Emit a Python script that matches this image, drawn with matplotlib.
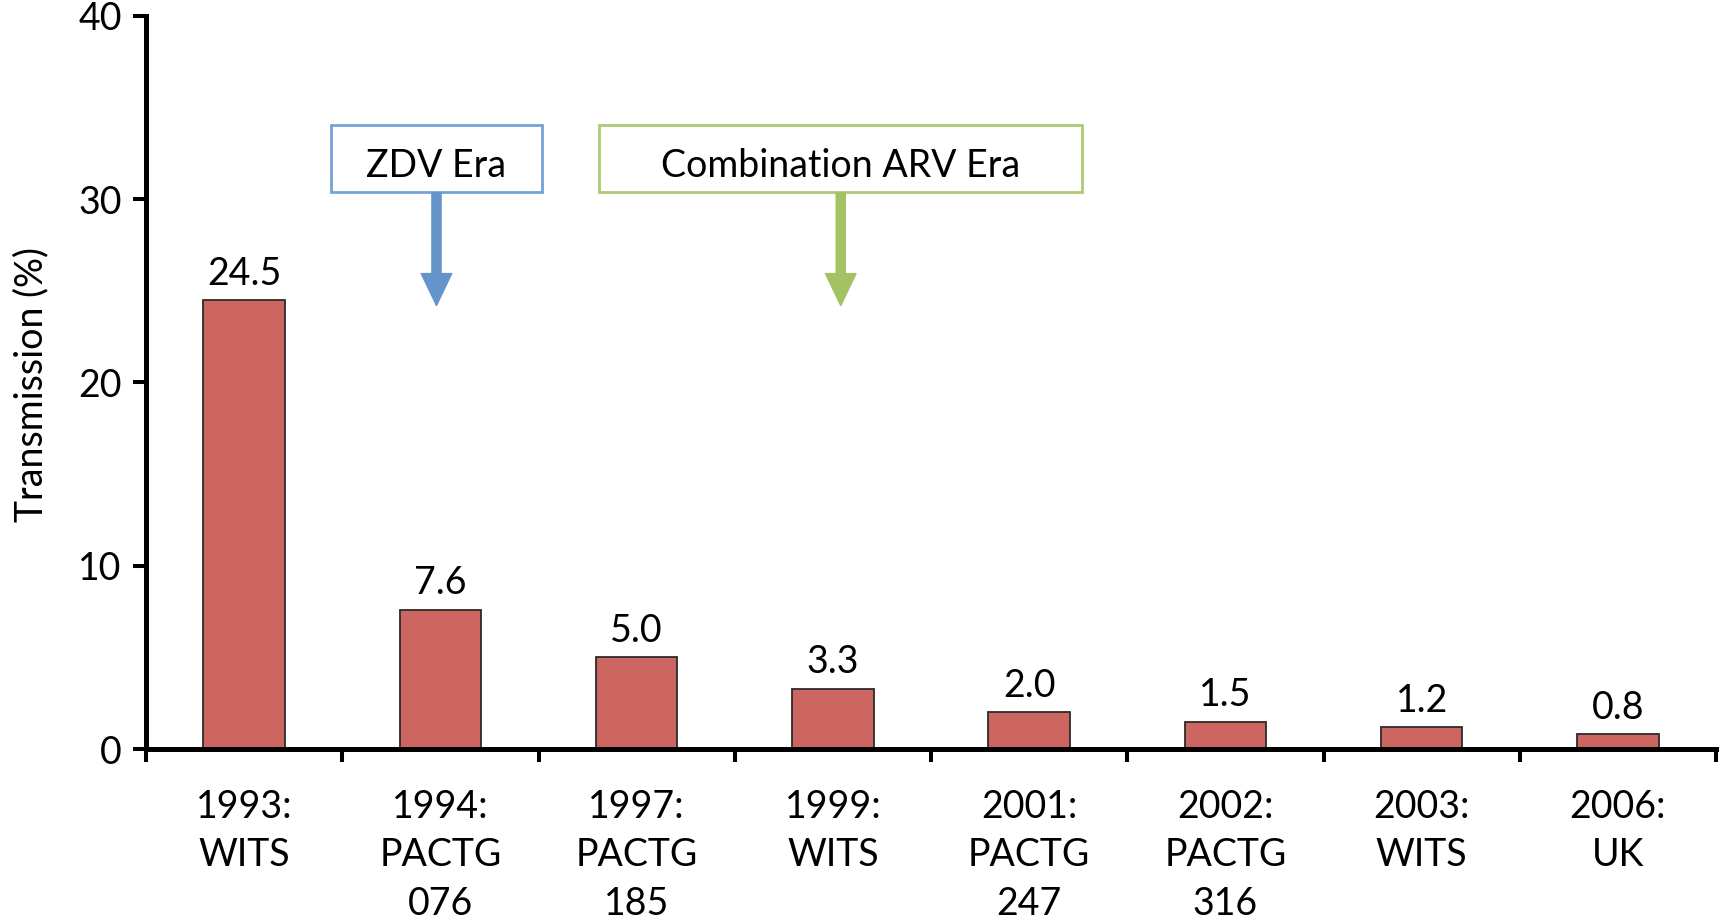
import matplotlib.pyplot as plt
from matplotlib.patches import Rectangle, FancyArrowPatch
import numpy as np

plt.rcParams['font.family'] = ['Lato', 'DejaVu Sans']

# Data
studies = ['1993:\nWITS', '1994:\nPACTG\n076', '1997:\nPACTG\n185', '1999:\nWITS',
           '2001:\nPACTG\n247', '2002:\nPACTG\n316', '2003:\nWITS', '2006:\nUK']
transmission = [24.5, 7.6, 5.0, 3.3, 2.0, 1.5, 1.2, 0.8]
y_ticks = [0, 10, 20, 30, 40]

bar_color = '#CD6660'
blue = '#6494C9'
blue_edge = '#74A2D4'
green = '#A3C264'
green_edge = '#AECB74'
fs = 27

fig = plt.figure(figsize=(17.24, 9.23), dpi=100)
ax = fig.add_axes([0.0847, 0.1885, 0.9107, 0.7942])

x = np.arange(len(studies))
bars = ax.bar(x, transmission, width=0.415, color=bar_color,
              edgecolor='#2b2b2b', linewidth=1.3, zorder=2)

for xi, v in zip(x, transmission):
    ax.annotate(f'{v:.1f}', xy=(xi, v), xytext=(0, 11), textcoords='offset points',
                ha='center', va='baseline', fontsize=fs)

ax.set_xlim(-0.5, len(studies) - 0.5)
ax.set_ylim(0, 40)
ax.set_yticks(y_ticks)
ax.set_yticklabels([str(t) for t in y_ticks], fontsize=fs)

# major ticks at category boundaries, labels on minor ticks at centres
ax.set_xticks(np.arange(-0.5, len(studies), 1.0))
ax.set_xticklabels([])
ax.set_xticks(x, minor=True)
ax.set_xticklabels(studies, minor=True, fontsize=fs, linespacing=1.42)
ax.tick_params(axis='x', which='minor', length=0, pad=29)
ax.tick_params(axis='both', which='major', direction='out', length=9.5,
               width=2.9, color='black')
ax.tick_params(axis='y', pad=8)

for s in ['top', 'right']:
    ax.spines[s].set_visible(False)
for s in ['left', 'bottom']:
    ax.spines[s].set_linewidth(3.6)
    ax.spines[s].set_capstyle('projecting')

fig.text(31 / 1724, 1 - 385 / 923, 'Transmission (%)', rotation=90,
         ha='center', va='center', fontsize=fs)

# era boxes and arrows
ax.add_patch(Rectangle((0.44, 30.4), 1.08, 3.65, fill=False, edgecolor=blue_edge,
                       linewidth=2.0, clip_on=False, zorder=3))
ax.text(0.98, 31.8, 'ZDV Era', ha='center', va='center', fontsize=fs)
ax.add_patch(Rectangle((1.81, 30.4), 2.46, 3.65, fill=False, edgecolor=green_edge,
                       linewidth=2.0, clip_on=False, zorder=3))
ax.text(3.04, 31.8, 'Combination ARV Era', ha='center', va='center', fontsize=fs)

for xa, c in [(0.98, blue), (3.04, green)]:
    arr = FancyArrowPatch((xa, 30.35), (xa, 24.2),
                          arrowstyle='simple,head_length=2.3,head_width=2.2,tail_width=0.66',
                          mutation_scale=10, color=c, shrinkA=0, shrinkB=0, zorder=3)
    ax.add_patch(arr)

plt.savefig('out.png', dpi=100)
